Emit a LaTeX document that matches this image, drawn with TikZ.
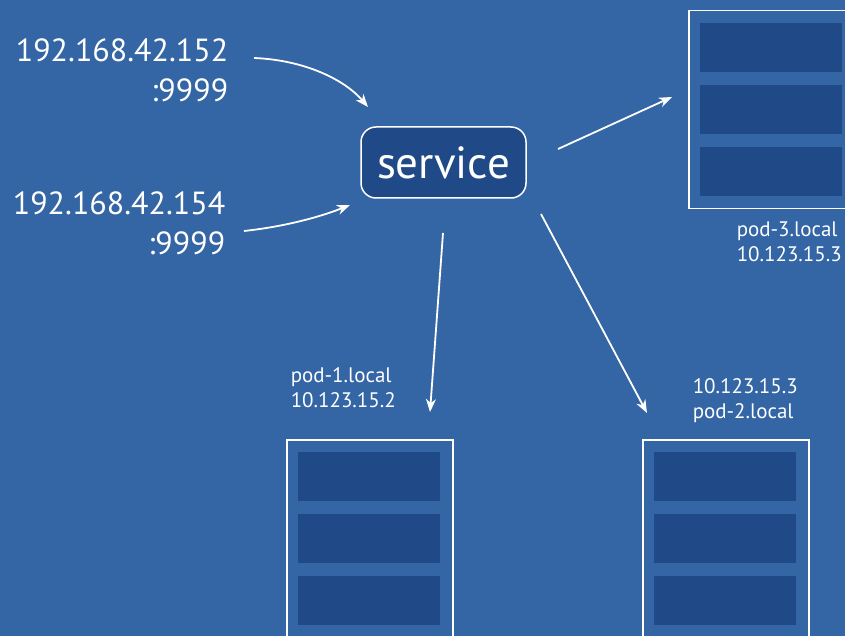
\documentclass[tikz,border=0pt]{standalone}
\usepackage{fontspec}
\setmainfont{PT Sans}
\usetikzlibrary{arrows.meta}
\definecolor{bgblue}{HTML}{3465A4}
\definecolor{darkblue}{HTML}{204A87}

\begin{document}
\begin{tikzpicture}[x=1pt, y=-1pt, line width=1.5pt,
    arr/.style={white, line width=1.8pt, -{Stealth[length=13pt, width=10pt, inset=4pt]}},
    pod/.style={draw=white, line width=1.5pt, minimum width=166pt, minimum height=198pt, inner sep=0pt, anchor=north west},
    cell/.style={fill=darkblue},
    addr/.style={white, align=right, inner sep=0pt, font=\fontsize{32}{40}\selectfont},
    podlabel/.style={white, align=left, inner sep=0pt, anchor=west, font=\fontsize{21}{25}\selectfont}]
  \useasboundingbox (0,0) rectangle (845,636);
  \fill[bgblue] (0,0) rectangle (845,636);
  \node[addr, anchor=east] (ip1) at (229,70) {192.168.42.152\\:9999};
  \node[addr, anchor=east] (ip2) at (226,223) {192.168.42.154\\:9999};
  \node[draw=white, fill=darkblue, rounded corners=15pt, minimum width=165pt, minimum height=71pt,
        text=white, font=\fontsize{45}{50}\selectfont] (svc) at (443.5,162.5) {service};
  \foreach \n/\x/\y in {1/286/439, 2/642/439, 3/688/10} {
    \node[pod] (pod\n) at (\x,\y) {};
    \foreach \k in {0,1,2}
      \fill[cell] ([shift={(12,13+62*\k)}]pod\n.north west) rectangle +(142,49);
  }
  \node[podlabel] (lbl1) at (290,388) {pod-1.local\\10.123.15.2};
  \node[podlabel] (lbl2) at (692,401) {10.123.15.3\\pod-2.local};
  \node[podlabel] (lbl3) at (736,242) {pod-3.local\\10.123.15.3};
  \coordinate (in1) at (254,58);
  \coordinate (in2) at (244,231);
  \coordinate (svcin1) at (368,107);
  \coordinate (svcin2) at (350,205);
  \coordinate (out1) at (443,233);
  \coordinate (out2) at (541,214);
  \coordinate (out3) at (558,149);
  \coordinate (to1) at (430,412);
  \coordinate (to2) at (647,413);
  \coordinate (to3) at (672,97);
  \draw[arr] (in1) .. controls (305,60) and (345,80) .. (svcin1);
  \draw[arr] (in2) .. controls (290,226) and (325,215) .. (svcin2);
  \draw[arr] (out1) -- (to1);
  \draw[arr] (out2) -- (to2);
  \draw[arr] (out3) -- (to3);
\end{tikzpicture}
\end{document}
